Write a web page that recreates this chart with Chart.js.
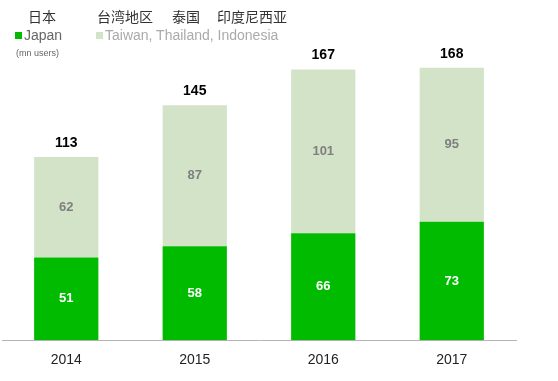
<!DOCTYPE html>
<html><head><meta charset="utf-8">
<script src="https://cdn.jsdelivr.net/npm/chart.js@4"></script>
<style>
html,body{margin:0;padding:0;background:#fff;width:558px;height:381px;overflow:hidden;}
#wrap{position:absolute;left:0;top:0;width:558px;height:381px;}
.t{position:absolute;white-space:nowrap;font-family:"Liberation Sans",Arial,sans-serif;}
.cn{font-family:"Noto Sans CJK SC",sans-serif;font-size:14px;color:#333;top:7px;line-height:18px;}
.en{font-size:14px;top:27px;line-height:16px;}
.sq{display:inline-block;width:7px;height:7px;margin-right:2px;vertical-align:1px;}
</style></head>
<body>
<div id="wrap"><canvas id="c" width="558" height="381"></canvas></div>
<div class="t cn" style="left:28px">日本</div>
<div class="t cn" style="left:97px">台湾地区</div>
<div class="t cn" style="left:172px">泰国</div>
<div class="t cn" style="left:217px">印度尼西亚</div>
<div class="t en" style="left:15px;color:#666"><span class="sq" style="background:#00BB00"></span>Japan</div>
<div class="t en" style="left:96px;color:#aaa"><span class="sq" style="background:#D2E3C8"></span>Taiwan, Thailand, Indonesia</div>
<div class="t" style="left:16px;top:48px;font-size:9px;color:#666">(mn users)</div>
<script>
const categories = ["2014","2015","2016","2017"];
const japan = [51,58,66,73];
const others = [62,87,101,95];
const totals = [113,145,167,168];

const labelPlugin = {
  id:'labels',
  afterDatasetsDraw(chart){
    const ctx = chart.ctx;
    ctx.save();
    ctx.textAlign='center';ctx.textBaseline='middle';
    const m0 = chart.getDatasetMeta(0), m1 = chart.getDatasetMeta(1);
    const colors=['#ffffff','#7f7f7f'];
    [m0,m1].forEach((m,di)=>{
      m.data.forEach((bar,i)=>{
        const v = chart.data.datasets[di].data[i];
        ctx.font='bold 13px "Liberation Sans", Arial, sans-serif';
        ctx.fillStyle=colors[di];
        ctx.fillText(String(v), bar.x, (bar.y+bar.base)/2);
      });
    });
    const ys = chart.scales.y;
    m1.data.forEach((bar,i)=>{
      ctx.font='bold 14px "Liberation Sans", Arial, sans-serif';
      ctx.fillStyle='#000';
      ctx.fillText(String(totals[i]), bar.x, ys.getPixelForValue(totals[i])-14);
    });
    ctx.restore();
  }
};

new Chart(document.getElementById('c'),{
  type:'bar',
  data:{labels:categories,datasets:[
    {label:'Japan',data:japan,backgroundColor:'#00BB00',barPercentage:0.5,categoryPercentage:1},
    {label:'Taiwan, Thailand, Indonesia',data:others,backgroundColor:'#D2E3C8',barPercentage:0.5,categoryPercentage:1}
  ]},
  options:{
    responsive:false,animation:false,
    layout:{padding:{left:2,right:42,top:16,bottom:0}},
    plugins:{legend:{display:false},tooltip:{enabled:false}},
    scales:{
      x:{stacked:true,grid:{display:false,drawTicks:false},border:{display:true,color:'#b4b4b4',width:1},
         ticks:{padding:12,color:'#222',font:{family:'"Liberation Sans", Arial, sans-serif',size:14}}},
      y:{stacked:true,display:false,min:0,max:200}
    }
  },
  plugins:[labelPlugin]
});
</script>
</body></html>
